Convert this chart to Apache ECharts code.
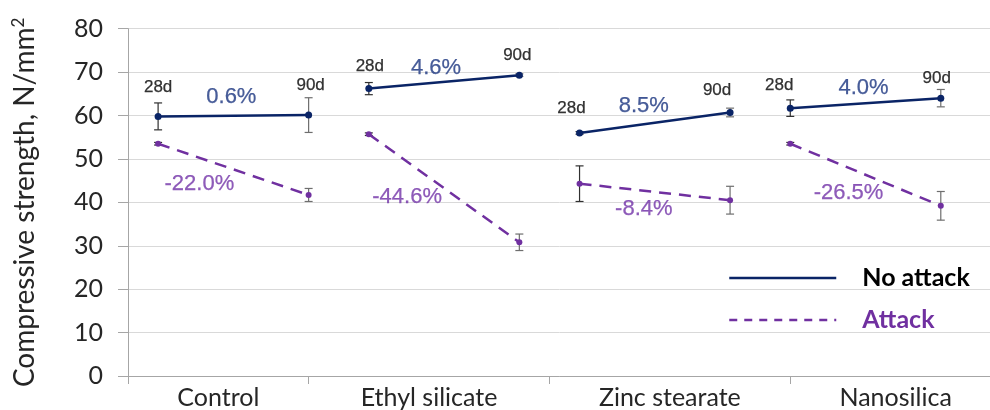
<!DOCTYPE html>
<html>
<head>
<meta charset="utf-8">
<script src="https://cdn.jsdelivr.net/npm/echarts@6/dist/echarts.min.js"></script>
<style>
html,body{margin:0;padding:0;background:#fff;}
#chart{width:990px;height:410px;}
</style>
</head>
<body>
<div id="chart"></div>
<script>
// ---- data ----
const categories = ['Control', 'Ethyl silicate', 'Zinc stearate', 'Nanosilica'];
const ageLabels = ['28d', '90d'];
const x28 = [1, 8, 15, 22];
const x90 = [6, 13, 20, 27];
const noAttack28 = [59.8, 66.2, 56.0, 61.7];
const noAttack90 = [60.1, 69.3, 60.7, 64.0];
const noAttackErr28 = [3.1, 1.4, 0.3, 1.9];
const noAttackErr90 = [4.0, 0.3, 1.0, 2.0];
const attack28 = [53.5, 55.7, 44.3, 53.5];
const attack90 = [41.7, 30.8, 40.5, 39.2];
const attackErr28 = [0.3, 0.3, 4.1, 0.3];
const attackErr90 = [1.5, 1.9, 3.2, 3.3];
const noAttackChange = ['0.6%', '4.6%', '8.5%', '4.0%'];
const attackChange = ['-22.0%', '-44.6%', '-8.4%', '-26.5%'];
const groupBoundaries = [0, 6, 14, 22];
const groupLabelPos = [3, 10, 18, 25.5];
const yMin = 0, yMax = 80, yStep = 10;

// ---- styles ----
const NAVY = '#0a2466';
const PURPLE = '#7030a0';
const NAVY_TEXT = '#1a3480';
const PURPLE_TEXT = '#7232a8';
const AXIS_FONT = 'Lato';
const ANN_FONT = 'Liberation Sans';

// pixel offsets for the age labels (relative to No attack point)
const ageOffsets = [
  [[0, -29], [2, -30]],
  [[1, -22], [-2, -20]],
  [[-8, -25], [-13, -22]],
  [[-11, -23], [-4, -20]]
];
const noAttackPctOffsets = [[-2, -19], [-8, -14], [-11, -17], [-2, -15]];
const attackPctOffsets = [[-34, 15], [-37, 9], [-11, 17], [-17, 18]];

const series = [];

function errSeries(name, xs28, xs90, v28, v90, e28, e90) {
  const data = [];
  for (let i = 0; i < categories.length; i++) {
    data.push([xs28[i], v28[i] - e28[i], v28[i] + e28[i], 0]);
    data.push([xs90[i], v90[i] - e90[i], v90[i] + e90[i], 1]);
  }
  return {
    type: 'custom',
    name: name + ' err',
    z: 1,
    silent: true,
    encode: { x: 0, y: [1, 2] },
    data: data,
    renderItem: function (params, api) {
      const x = api.value(0), lo = api.value(1), hi = api.value(2);
      const col = api.value(3) === 0 ? '#303030' : '#6e6e6e';
      const top = api.coord([x, hi]);
      const bot = api.coord([x, lo]);
      const w = 4;
      const st = { stroke: col, lineWidth: 1.2 };
      return {
        type: 'group',
        children: [
          { type: 'line', shape: { x1: top[0], y1: top[1], x2: bot[0], y2: bot[1] }, style: st },
          { type: 'line', shape: { x1: top[0] - w, y1: top[1], x2: top[0] + w, y2: top[1] }, style: st },
          { type: 'line', shape: { x1: bot[0] - w, y1: bot[1], x2: bot[0] + w, y2: bot[1] }, style: st }
        ]
      };
    }
  };
}

series.push(errSeries('No attack', x28, x90, noAttack28, noAttack90, noAttackErr28, noAttackErr90));
series.push(errSeries('Attack', x28, x90, attack28, attack90, attackErr28, attackErr90));

for (let i = 0; i < categories.length; i++) {
  series.push({
    type: 'line',
    name: 'No attack',
    z: 3,
    symbol: 'circle',
    symbolSize: 7,
    lineStyle: { color: NAVY, width: 2.5, type: 'solid' },
    itemStyle: { color: NAVY },
    data: [[x28[i], noAttack28[i]], [x90[i], noAttack90[i]]]
  });
  series.push({
    type: 'line',
    name: 'Attack',
    z: 3,
    symbol: 'circle',
    symbolSize: 6,
    lineStyle: { color: PURPLE, width: 2.5, type: [12, 8] },
    itemStyle: { color: PURPLE },
    data: [[x28[i], attack28[i]], [x90[i], attack90[i]]]
  });
}

// text annotations anchored to the data points / segment midpoints
const ageData = [], pctNo = [], pctAt = [];
for (let i = 0; i < categories.length; i++) {
  ageData.push({ value: [x28[i], noAttack28[i]], label: { formatter: ageLabels[0], offset: ageOffsets[i][0] } });
  ageData.push({ value: [x90[i], noAttack90[i]], label: { formatter: ageLabels[1], offset: ageOffsets[i][1] } });
  const xm = (x28[i] + x90[i]) / 2;
  pctNo.push({ value: [xm, (noAttack28[i] + noAttack90[i]) / 2], label: { formatter: noAttackChange[i], offset: noAttackPctOffsets[i] } });
  pctAt.push({ value: [xm, (attack28[i] + attack90[i]) / 2], label: { formatter: attackChange[i], offset: attackPctOffsets[i] } });
}
function textSeries(name, data, color, size) {
  return {
    type: 'scatter', name: name, symbolSize: 1, silent: true, z: 4,
    itemStyle: { color: 'rgba(0,0,0,0)' },
    label: {
      show: true, position: ['50%', '50%'], align: 'center', verticalAlign: 'middle',
      color: color, fontFamily: ANN_FONT, fontSize: size,
      textBorderColor: color, textBorderWidth: 0.25
    },
    data: data
  };
}
series.push(textSeries('ages', ageData, '#000000', 17));
series.push(textSeries('pctNo', pctNo, NAVY_TEXT, 22));
series.push(textSeries('pctAt', pctAt, PURPLE_TEXT, 22));

const option = {
  animation: false,
  backgroundColor: '#fff',
  grid: { left: 128, right: -11, top: 28.7, bottom: 34, containLabel: false, outerBoundsMode: 'none' },
  legend: {
    orient: 'vertical',
    left: 723,
    top: 258,
    padding: 5,
    itemWidth: 107,
    itemHeight: 14,
    itemGap: 12,
    itemStyle: { opacity: 0 },
    selectedMode: false,
    textStyle: { fontFamily: AXIS_FONT, fontSize: 25, fontWeight: 'bold', lineHeight: 30, padding: [0, 0, 0, 21] },
    data: [
      { name: 'No attack', textStyle: { color: '#000' }, lineStyle: { color: NAVY, width: 2.5, type: 'solid' } },
      { name: 'Attack', textStyle: { color: PURPLE }, lineStyle: { color: PURPLE, width: 2.5, type: [8, 7] } }
    ]
  },
  xAxis: {
    type: 'value',
    min: 0,
    max: 29,
    splitLine: { show: false },
    axisLine: { show: true, lineStyle: { color: '#a6a6a6', width: 1 } },
    axisTick: { show: true, customValues: groupBoundaries, length: 8, lineStyle: { color: '#a6a6a6' } },
    axisLabel: {
      customValues: groupLabelPos,
      formatter: function (v) { const k = groupLabelPos.indexOf(v); return k >= 0 ? categories[k] : ''; },
      fontFamily: AXIS_FONT, fontSize: 25, color: '#262626', margin: 9
    }
  },
  yAxis: {
    type: 'value',
    min: yMin, max: yMax, interval: yStep,
    name: 'Compressive strength, N/mm{sup|2}',
    nameLocation: 'middle',
    nameGap: 88,
    nameRotate: 90,
    nameTextStyle: {
      fontFamily: AXIS_FONT, fontSize: 28, color: '#262626',
      rich: { sup: { fontFamily: AXIS_FONT, fontSize: 17, color: '#262626', verticalAlign: 'top', padding: [0, 0, 13, 0] } }
    },
    axisLine: { show: true, lineStyle: { color: '#a6a6a6', width: 1 } },
    axisTick: { show: true, length: 10, lineStyle: { color: '#a6a6a6' } },
    splitLine: { show: true, lineStyle: { color: '#d9d9d9', width: 1 } },
    axisLabel: { fontFamily: AXIS_FONT, fontSize: 25, color: '#262626', margin: 25 }
  },
  series: series
};

const chart = echarts.init(document.getElementById('chart'), null, { renderer: 'canvas' });
chart.setOption(option);
</script>
</body>
</html>
